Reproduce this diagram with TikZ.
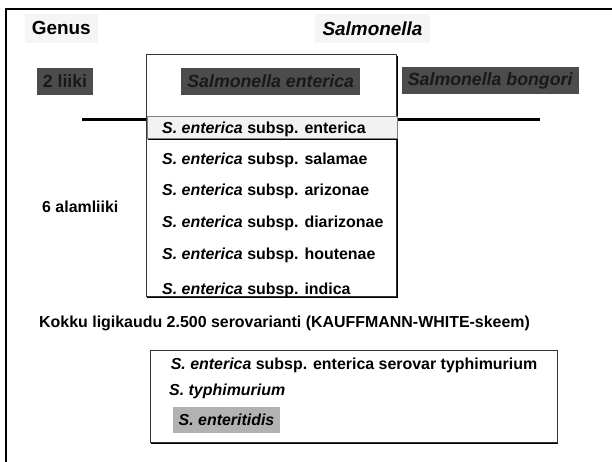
\documentclass[tikz,border=0pt]{standalone}
\usepackage{fontspec}
\setmainfont{Liberation Sans}[BoldFont={Liberation Sans Bold}, ItalicFont={Liberation Sans Italic}, BoldItalicFont={Liberation Sans Bold Italic}]
\usetikzlibrary{shadows}
\colorlet{darkbox}{black!70}
\colorlet{lightbox}{black!4}
\colorlet{midbox}{black!30}
\colorlet{rowbox}{black!5}

\begin{document}
\begin{tikzpicture}[x=1bp,y=-1bp,
    every node/.style={font=\fontsize{16}{19}\selectfont\bfseries, inner sep=0pt},
    title/.style={fill=lightbox, font=\fontsize{19}{22}\selectfont\bfseries, minimum height=28.7bp},
    species/.style={fill=darkbox, text=black!90, font=\fontsize{17.8}{21}\selectfont\bfseries, minimum height=27bp},
    framebox/.style={draw=black!80, line width=0.8bp, fill=white,
        drop shadow={shadow xshift=1.2bp, shadow yshift=-1.6bp, fill=black, opacity=1}}]
        \useasboundingbox (0,0) rectangle (612,462);
        \draw[line width=2bp] (6,462) |- (612,9);
        \node[title, minimum width=72.7bp] (genus) at (61.3,28.3) {Genus};
        \node[title, minimum width=115bp] (salm) at (372.5,28.3) {\textit{Salmonella}};
        \coordinate (lineL) at (82,119.3);
        \coordinate (lineR) at (540,119.3);
        \draw[line width=3.5bp] (lineL) -- (lineR);
        \node[framebox, minimum width=250.5bp, minimum height=242.4bp] (entbox) at (271.3,175.5) {};
        \node[species, minimum width=55.4bp] (liiki) at (65,81.3) {2 liiki};
        \node[species, minimum width=178.5bp] (enterica) at (270.7,81.5) {\textit{Salmonella enterica}};
        \node[species, minimum width=177.3bp] (bongori) at (490.3,81) {\textit{Salmonella bongori}};
        \node[framebox, draw=black!50, fill=rowbox, minimum width=250bp, minimum height=22bp] (row) at (272,127) {};
        \foreach \y/\sub [count=\i] in {129/enterica,160/salamae,191.7/arizonae,223.3/diarizonae,255.7/houtenae,290/indica}
        {
            \node[anchor=west] (sub\i) at (162,\y) {\textit{S. enterica} subsp. \sub};
        }
        \node[anchor=west] (alam) at (42,206.7) {6 alamliiki};
        \node[anchor=west] (kokku) at (39,323.3) {Kokku ligikaudu 2.500 serovarianti (KAUFFMANN-WHITE-skeem)};
        \node[framebox, minimum width=407bp, minimum height=92bp] (serbox) at (353.5,396) {};
        \node[anchor=west] (ser1) at (170.6,365) {\textit{S. enterica} subsp. enterica serovar typhimurium};
        \node[anchor=west] (ser2) at (169,391.7) {\textit{S. typhimurium}};
        \node[fill=midbox, minimum width=107bp, minimum height=26.6bp] (ser3) at (226.5,420) {\textit{S. enteritidis}};
\end{tikzpicture}
\end{document}
